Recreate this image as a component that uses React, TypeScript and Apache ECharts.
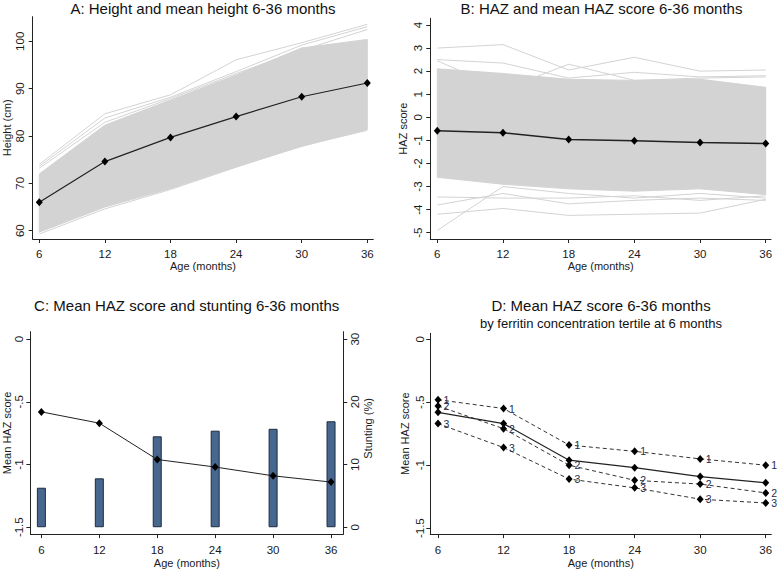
import React, { useEffect, useRef } from "react";
import * as echarts from "echarts";

// ---------- data ----------
const ages = [6, 12, 18, 24, 30, 36];

// Panel A: height (cm)
const meanHeight = [66.0, 74.6, 79.7, 84.1, 88.3, 91.2];
const heightBandLow = [59.7, 65.0, 68.9, 73.5, 77.8, 81.4];
const heightBandHigh = [72.0, 82.3, 87.6, 92.9, 98.6, 100.4];
const heightLineTop1 = [74.0, 84.7, 88.7, 96.1, 99.7, 103.6];
const heightLineTop2 = [73.6, 83.8, 88.2, 93.6, 99.2, 103.1];
const heightLineTop3 = [73.2, 82.9, 87.9, 93.2, 98.1, 102.5];
const heightLineLow1 = [59.3, 64.6, 68.7, 73.4, 77.9, 81.2];
const heightTicks = [60, 70, 80, 90, 100];

// Panel B: HAZ score
const meanHaz = [-0.58, -0.67, -0.96, -1.02, -1.09, -1.14];
const hazBandLow = [-2.6, -2.9, -3.1, -3.2, -3.1, -3.35];
const hazBandHigh = [2.1, 1.9, 1.65, 1.6, 1.65, 1.3];
const hazLineTop1 = [3.0, 3.15, 2.05, 2.6, 2.0, 2.05];
const hazLineTop2 = [2.5, 2.35, 1.7, 1.95, 1.75, 1.8];
const hazLineTop3 = [2.45, 1.2, 2.3, 1.6, 1.7, 1.75];
const hazLineLow1 = [-4.9, -3.0, -3.3, -3.5, -3.3, -3.5];
const hazLineLow2 = [-4.2, -3.95, -4.25, -4.2, -4.15, -3.55];
const hazLineLow3 = [-3.8, -3.3, -3.75, -3.6, -3.5, -3.6];
const hazLineLow4 = [-3.45, -3.5, -3.5, -3.4, -3.6, -3.4];
const hazTicks = [-5, -4, -3, -2, -1, 0, 1, 2, 3, 4];

// Panel C: stunting (%)
const stunting = [6.3, 7.8, 14.5, 15.4, 15.7, 16.9];
const meanHazTicks = [-1.5, -1, -0.5, 0];
const stuntingTicks = [0, 10, 20, 30];

// Panel D: ferritin tertiles at 6 months
const tertile1 = [-0.48, -0.55, -0.84, -0.89, -0.95, -1.0];
const tertile2 = [-0.53, -0.71, -1.0, -1.12, -1.15, -1.22];
const tertile3 = [-0.67, -0.86, -1.11, -1.18, -1.27, -1.3];
const tertileNames = ["1", "2", "3"];

// ---------- styling ----------
const FONT = "'Liberation Sans', Arial, sans-serif";
const TEXT = "#1a1a1a";
const AXIS = "#222222";
const GREY = "#d3d3d3";

const pairs = (ys: number[]) => ages.map((a, i) => [a, ys[i]]);
const stataFmt = (v: number) => String(v).replace(/^(-?)0\./, "$1.");

function xAxisFor(gridIndex: number, min: number, max: number, margin: number, nameGap: number) {
  return {
    type: "value",
    gridIndex,
    min,
    max,
    name: "Age (months)",
    nameLocation: "middle",
    nameGap,
    nameTextStyle: { color: TEXT, fontFamily: FONT, fontSize: 11 },
    axisLine: { show: true, onZero: false, lineStyle: { color: AXIS, width: 1 } },
    axisTick: { show: true, length: 4, customValues: ages, lineStyle: { color: AXIS } },
    axisLabel: { customValues: ages, margin, color: TEXT, fontFamily: FONT, fontSize: 11.5 },
    splitLine: { show: false },
  };
}

function yAxisFor(
  gridIndex: number,
  min: number,
  max: number,
  ticks: number[],
  name: string,
  margin: number,
  nameGap: number,
  position: "left" | "right" = "left",
  namePad: number[] = [0, 0, 0, 0]
) {
  return {
    type: "value",
    gridIndex,
    min,
    max,
    position,
    name,
    nameLocation: "middle",
    nameGap,
    nameTextStyle: { color: TEXT, fontFamily: FONT, fontSize: 11, padding: namePad },
    axisLine: { show: true, onZero: false, lineStyle: { color: AXIS, width: 1 } },
    axisTick: { show: true, length: 4, customValues: ticks, lineStyle: { color: AXIS } },
    axisLabel: {
      customValues: ticks,
      rotate: 90,
      margin,
      color: TEXT,
      fontFamily: FONT,
      fontSize: 11.5,
      formatter: (v: number) => stataFmt(v),
    },
    splitLine: { show: false },
  };
}

function greyLine(x: number, y: number, ys: number[]) {
  return {
    type: "line",
    xAxisIndex: x,
    yAxisIndex: y,
    data: pairs(ys),
    symbol: "none",
    silent: true,
    z: 2,
    lineStyle: { color: GREY, width: 1 },
  };
}

// dense region of individual trajectories, drawn as a filled band between two bounds
function band(x: number, y: number, low: number[], high: number[]) {
  return {
    type: "custom",
    xAxisIndex: x,
    yAxisIndex: y,
    silent: true,
    z: 1,
    encode: { x: 0, y: [1, 2] },
    data: ages.map((a, i) => [a, low[i], high[i]]),
    renderItem: (params: any, api: any) => {
      const i = params.dataIndex;
      if (i >= ages.length - 1) return null;
      const pts = [
        api.coord([ages[i], low[i]]),
        api.coord([ages[i + 1], low[i + 1]]),
        api.coord([ages[i + 1], high[i + 1]]),
        api.coord([ages[i], high[i]]),
      ];
      return {
        type: "polygon",
        shape: { points: pts },
        style: { fill: GREY, stroke: GREY, lineWidth: 1 },
      };
    },
  };
}

function meanLine(x: number, y: number, ys: number[], width = 1.2) {
  return {
    type: "line",
    xAxisIndex: x,
    yAxisIndex: y,
    data: pairs(ys),
    symbol: "diamond",
    symbolSize: [7, 8],
    z: 5,
    itemStyle: { color: "#000" },
    lineStyle: { color: "#222", width },
  };
}

function tertileLine(ys: number[], tag: string) {
  return {
    type: "line",
    xAxisIndex: 3,
    yAxisIndex: 4,
    name: "Tertile " + tag,
    data: pairs(ys),
    symbol: "diamond",
    symbolSize: [7, 8],
    z: 4,
    itemStyle: { color: "#000" },
    lineStyle: { color: "#333", width: 1, type: [4, 3] },
    label: {
      show: true,
      position: "right",
      distance: 2,
      formatter: () => tag,
      color: "#1f2d4d",
      fontFamily: FONT,
      fontSize: 10.5,
    },
  };
}

function titleText(text: string, x: number, y: number, size: number) {
  return {
    type: "text",
    x,
    y,
    silent: true,
    style: {
      text,
      x: 0,
      y: 0,
      align: "center",
      verticalAlign: "middle",
      fill: "#111",
      fontFamily: FONT,
      fontSize: size,
    },
  };
}

export default function App() {
  const ref = useRef<HTMLDivElement>(null);

  useEffect(() => {
    if (!ref.current) return;
    const chart = echarts.init(ref.current, undefined, { renderer: "svg" });

    const option: any = {
      animation: false,
      backgroundColor: "#ffffff",
      graphic: [
        titleText("A: Height and mean height 6-36 months", 203, 8, 15),
        titleText("B: HAZ and mean HAZ score 6-36 months", 601.5, 8, 15),
        titleText("C: Mean HAZ score and stunting 6-36 months", 186.7, 305, 15),
        titleText("D: Mean HAZ score 6-36 months", 601, 305, 15),
        titleText("by ferritin concentration tertile at 6 months", 601, 323.5, 13),
      ],
      grid: [
        { left: 32.7, top: 16.7, width: 340.6, height: 222.3 },
        { left: 430.3, top: 18.3, width: 340.7, height: 220.7 },
        { left: 30, top: 331.7, width: 313.3, height: 206 },
        { left: 430.3, top: 333.3, width: 341, height: 204.4 },
      ],
      xAxis: [
        xAxisFor(0, 5.396, 36.549, 9, 20),
        xAxisFor(1, 5.36, 36.48, 9, 20),
        xAxisFor(2, 4.862, 37.27, 10, 19.5),
        xAxisFor(3, 5.295, 36.51, 10, 19.5),
      ],
      yAxis: [
        yAxisFor(0, 58.25, 105.2, heightTicks, "Height (cm)", 7, 20),
        yAxisFor(1, -5.273, 4.29, hazTicks, "HAZ score", 6, 22),
        yAxisFor(2, -1.555, 0.0596, meanHazTicks, "Mean HAZ score", 5.5, 16),
        yAxisFor(2, -1.097, 31.19, stuntingTicks, "Stunting (%)", 6, 18, "right", [0, 0, 0, 9]),
        yAxisFor(3, -1.547, 0.047, meanHazTicks, "Mean HAZ score", 4.5, 20),
      ],
      series: [
        // Panel A
        band(0, 0, heightBandLow, heightBandHigh),
        greyLine(0, 0, heightLineTop1),
        greyLine(0, 0, heightLineTop2),
        greyLine(0, 0, heightLineTop3),
        greyLine(0, 0, heightLineLow1),
        meanLine(0, 0, meanHeight),
        // Panel B
        band(1, 1, hazBandLow, hazBandHigh),
        greyLine(1, 1, hazLineTop1),
        greyLine(1, 1, hazLineTop2),
        greyLine(1, 1, hazLineTop3),
        greyLine(1, 1, hazLineLow1),
        greyLine(1, 1, hazLineLow2),
        greyLine(1, 1, hazLineLow3),
        greyLine(1, 1, hazLineLow4),
        meanLine(1, 1, meanHaz, 1.5),
        // Panel C
        {
          type: "bar",
          name: "Stunting (%)",
          xAxisIndex: 2,
          yAxisIndex: 3,
          data: pairs(stunting),
          barWidth: 9,
          z: 2,
          itemStyle: { color: "#47678e", borderColor: "#1d2c40", borderWidth: 1 },
        },
        { ...meanLine(2, 2, meanHaz, 1), name: "Mean HAZ score" },
        // Panel D
        tertileLine(tertile1, tertileNames[0]),
        tertileLine(tertile2, tertileNames[1]),
        tertileLine(tertile3, tertileNames[2]),
        { ...meanLine(3, 4, meanHaz, 1.2), name: "Mean HAZ" },
      ],
    };

    chart.setOption(option);
    return () => chart.dispose();
  }, []);

  return (
    <div
      ref={ref}
      style={{ position: "fixed", left: 0, top: 0, width: 777, height: 569, background: "#fff" }}
    />
  );
}
